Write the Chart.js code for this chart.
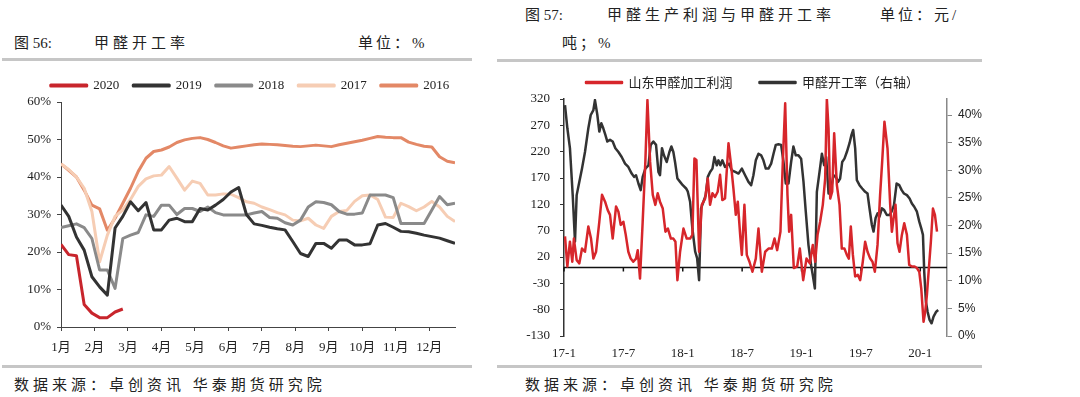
<!DOCTYPE html>
<html>
<head>
<meta charset="utf-8">
<script src="https://cdn.jsdelivr.net/npm/chart.js@4.4.1/dist/chart.umd.min.js"></script>
<style>
  body { margin: 0; width: 1080px; height: 397px; background: #fff; position: relative; overflow: hidden;
         font-family: "Liberation Serif", "Noto Sans CJK SC", serif; color: #222; }
  .t { position: absolute; font-size: 15px; line-height: 16px; white-space: nowrap; }
  .rule { position: absolute; height: 3px; background: #c6c6c6; }
  #leftBox { position: absolute; left: 0; top: 65px; width: 500px; height: 295px; }
  #rightBox { position: absolute; left: 505px; top: 49px; width: 495px; height: 313px; }
</style>
</head>
<body>
<div class="t" style="left:14px;top:35px;">图 56:</div>
<div class="t" style="left:94px;top:35px;letter-spacing:4px;">甲醛开工率</div>
<div class="t" style="left:358px;top:35px;letter-spacing:3px;">单位：%</div>
<div class="rule" style="left:2px;top:58px;width:470px;"></div>

<div class="t" style="left:525px;top:7px;">图 57:</div>
<div class="t" style="left:607px;top:7px;letter-spacing:4px;">甲醛生产利润与甲醛开工率</div>
<div class="t" style="left:880px;top:7px;letter-spacing:3px;">单位：元/</div>
<div class="t" style="left:562px;top:35px;letter-spacing:3px;">吨；%</div>
<div class="rule" style="left:497px;top:59px;width:485px;"></div>

<div id="leftBox"><canvas id="rateChart" width="500" height="295"></canvas></div>
<div id="rightBox"><canvas id="profitChart" width="495" height="313"></canvas></div>

<div class="rule" style="left:2px;top:365px;width:470px;"></div>
<div class="rule" style="left:497px;top:365px;width:485px;"></div>
<div class="t" style="left:14px;top:377px;letter-spacing:4px;">数据来源：卓创资讯 华泰期货研究院</div>
<div class="t" style="left:525px;top:377px;letter-spacing:4px;">数据来源：卓创资讯 华泰期货研究院</div>

<script>
// left chart: weekly operating rate by year (%)
const monthLabels = ['1月', '2月', '3月', '4月', '5月', '6月', '7月', '8月', '9月', '10月', '11月', '12月'];
const pctTicks = [0, 10, 20, 30, 40, 50, 60];
const rate2020 = [22, 19.3, 19, 6, 3.7, 2.5, 2.5, 4, 4.8];
const rate2019 = [32.5, 29.5, 24, 20.5, 13.4, 10.7, 8.5, 26.4, 29.5, 33.4, 31, 33.2, 25.9, 25.9, 28.5, 29, 28.1, 28.1,
  31.6, 31.2, 32.5, 34, 36, 37.2, 30, 27.5, 27.1, 26.6, 26.2, 25.9, 22.8, 19.6, 18.8, 22.3, 22.3, 21, 23.2, 23.2,
  21.9, 21.9, 22.2, 27.2, 27.6, 26.6, 25.5, 25.4, 25, 24.5, 24.1, 23.7, 23, 22.3];
const rate2018 = [26.5, 27, 27.5, 26.5, 23.6, 15.2, 15.2, 10.3, 23.6, 24.5, 25.2, 29.9, 29.5, 32.5, 32.5, 30, 31.6, 31.6,
  30.8, 32, 30.5, 29.9, 29.9, 29.9, 29.9, 30.4, 30.8, 29.2, 29, 27.8, 27.2, 28.5, 32, 33.4, 33.2, 32.6, 30.8, 30.1,
  30.1, 30.4, 35.2, 35.2, 35.2, 34.5, 27.6, 27.6, 27.6, 27.6, 31.2, 34.8, 32.6, 33];
const rate2017 = [43.5, 42, 40, 37, 30.8, 17.4, 24.5, 29.5, 31.2, 34, 37.5, 39.5, 40.3, 40.5, 42.8, 39.7, 36.5, 38.9,
  38.3, 35.2, 35.2, 35.5, 35.4, 34.5, 33.4, 33, 32, 31.3, 30.5, 29.9, 28.5, 28.3, 29, 27.2, 26.3, 29.5, 30.8, 31.1,
  33.5, 35, 35.2, 34, 29.3, 29.2, 33, 32.1, 31, 32, 33.5, 32, 29.5, 28.1];
const rate2016 = [43.5, 41.8, 40, 36.5, 32.5, 31.5, 25.8, 29, 33, 37, 41.5, 45, 46.8, 47.2, 48, 49.2, 49.9, 50.3,
  50.5, 50, 49.2, 48.3, 47.7, 48, 48.3, 48.6, 48.8, 48.7, 48.6, 48.4, 48.2, 48.1, 48.3, 48.5, 48.3, 48.1, 48.6, 49,
  49.4, 49.8, 50.3, 50.8, 50.6, 50.5, 50.5, 49.3, 48.7, 48.2, 48, 45.4, 44.2, 43.8];

// right chart: months since 2017-01, profit (yuan/t) and operating rate (%)
const dateLabels = ['17-1', '17-7', '18-1', '18-7', '19-1', '19-7', '20-1'];
const profitTicks = [-130, -80, -30, 20, 70, 120, 170, 220, 270, 320];
const rateTicks = [0, 5, 10, 15, 20, 25, 30, 35, 40];
const profitMonth = [0.1, 0.34, 0.6, 0.84, 1.0, 1.28, 1.55, 1.82, 2.12, 2.46, 2.73, 2.97, 3.24, 3.57, 3.84, 4.15, 4.42,
  4.65, 4.92, 5.26, 5.5, 5.73, 6.0, 6.24, 6.5, 6.74, 7.0, 7.28, 7.45, 7.68, 7.95, 8.22, 8.43, 8.7, 8.97, 9.23, 9.47,
  9.7, 9.98, 10.25, 10.5, 10.8, 11.05, 11.26, 11.46, 11.73, 12.07, 12.4, 12.74, 12.97, 13.18, 13.38, 13.65, 13.92,
  14.26, 14.53, 14.76, 15.0, 15.26, 15.53, 15.77, 16.0, 16.27, 16.62, 16.88, 17.12, 17.36, 17.56, 17.8, 17.97, 18.23,
  18.47, 18.74, 19.04, 19.38, 19.65, 19.99, 20.33, 20.66, 21.0, 21.27, 21.54, 21.87, 22.11, 22.35, 22.58, 22.75,
  22.95, 23.22, 23.56, 23.83, 24.17, 24.5, 24.84, 25.14, 25.38, 25.62, 25.88, 26.15, 26.39, 26.56, 26.73, 26.9, 27.1,
  27.3, 27.57, 27.84, 28.07, 28.34, 28.58, 28.78, 28.98, 29.19, 29.42, 29.69, 29.93, 30.19, 30.43, 30.67, 30.94,
  31.17, 31.41, 31.68, 31.94, 32.15, 32.38, 32.69, 32.96, 33.13, 33.3, 33.5, 33.7, 33.9, 34.14, 34.38, 34.65, 34.88,
  35.15, 35.42, 35.66, 35.9, 36.1, 36.33, 36.5, 36.67, 36.87, 37.07, 37.28, 37.48, 37.69];
const profitValue = [59, 2, 49, 11, 55, 14, 8, 36, 30, 78, 55, 17, 30, 87, 138, 125, 109,
  100, 55, 116, 106, 81, 87, 62, 30, 17, 11, 17, 33, -21, 87, 201, 318, 201, 138, 119, 141,
  125, 112, 68, 74, 55, 55, 49, -24, 30, 74, 55, 55, 62, 207, 204, 30, 119,
  131, 169, 119, 141, 134, 144, 176, 128, 131, 236, 195, 150, 100, 125, 62, 24, 119,
  24, 11, -8, 17, 74, -8, 30, 36, 36, 55, 33, 68, 201, 312, 138, 68,
  100, -1, 2, 36, -24, 17, 8, 43, 11, 62, 87, 119, 169, 320, 264, 131, 144,
  255, 157, 119, 36, 36, 24, 17, 78, 24, -17, -14, -24, 11, 49, 30, 17,
  11, -8, 43, 138, 201, 277, 226, 119, 68, 93, 119, 46, 30, 62, 84, 62, 5,
  2, 2, -1, -8, -40, -103, -84, -52, -1, 49, 112, 100, 68];
const rateMonth = [0.1, 0.34, 0.6, 0.88, 1.11, 1.28, 1.55, 1.82, 2.12, 2.46, 2.7, 2.97, 3.13, 3.37, 3.57, 3.77, 3.97,
  4.18, 4.38, 4.65, 4.92, 5.19, 5.5, 5.83, 6.17, 6.5, 6.84, 7.08, 7.28, 7.52, 7.75, 7.95, 8.22, 8.53, 8.76, 9.03, 9.3,
  9.54, 9.7, 9.9, 10.1, 10.38, 10.65, 10.85, 11.05, 11.22, 11.46, 11.73, 12.0, 12.34, 12.5, 12.74, 12.97, 13.25,
  13.45, 13.65, 13.85, 14.09, 14.32, 14.53, 14.76, 15.0, 15.2, 15.44, 15.6, 15.8, 16.0, 16.27, 16.47, 16.68, 16.95,
  17.3, 17.63, 17.97, 18.3, 18.64, 18.91, 19.14, 19.38, 19.65, 19.92, 20.15, 20.39, 20.66, 20.93, 21.17, 21.4, 21.67,
  21.94, 22.18, 22.41, 22.68, 22.95, 23.18, 23.42, 23.69, 23.96, 24.2, 24.43, 24.7, 24.97, 25.14, 25.35, 25.55,
  25.82, 26.06, 26.29, 26.49, 26.73, 26.96, 27.23, 27.47, 27.7, 27.9, 28.11, 28.34, 28.58, 28.85, 29.05, 29.22,
  29.42, 29.59, 29.86, 30.13, 30.43, 30.67, 30.87, 31.11, 31.28, 31.48, 31.68, 31.88, 32.12, 32.35, 32.62, 32.9,
  33.1, 33.34, 33.61, 33.88, 34.12, 34.35, 34.65, 34.92, 35.15, 35.39, 35.66, 35.9, 36.1, 36.27, 36.4, 36.57,
  36.74, 36.94, 37.14, 37.34, 37.61, 37.81];
const rateValue = [41.8, 37.6, 34, 25.5, 17.1, 25.5, 27.9, 30.3, 33.3, 37.6, 40, 40.9, 42.7, 40, 37, 38.5, 37.6,
  36.4, 35.2, 35.5, 35.2, 34, 33.3, 32.4, 31.2, 30.6, 29.4, 28.8, 29.1, 27.6, 26.4, 28.8, 30.3, 30.9, 34.6, 35.2, 34.6,
  29.7, 29.1, 34, 32.7, 31.5, 33.3, 34.3, 33.3, 31.5, 28.5, 27.9, 27.3, 26.7, 26.2, 24.3, 19.5, 15.3,
  14.1, 10.1, 23.1, 24.3, 25.5, 28.8, 29.7, 30.3, 32.4, 30.9, 31.8, 30.9, 31.8, 30.6, 30.9, 31.2, 30,
  29.7, 29.4, 30.3, 29.1, 27.9, 27.3, 29.1, 31.8, 33, 32.7, 31.8, 30.3, 30.3, 31.2, 33, 34.6, 34.7,
  34.6, 31.5, 27.6, 27.6, 31.5, 34.3, 32.7, 32.7, 32.1, 27.9, 22.5, 16.5, 12.8, 11, 8.6, 26.1,
  29.7, 33, 30.9, 32.4, 25.8, 26.4, 29.1, 28.8, 27.9, 28.5, 31.5, 32.1, 33.3, 34.9, 36.4, 37.3,
  34, 28.2, 27.3, 26.7, 26.1, 25.8, 23.1, 20.1, 18.9, 21.3, 22.2, 21.6, 23.1, 22.8, 21.9, 21.9,
  22.5, 23.7, 27.6, 27.3, 26.4, 25.8, 25.5, 24.9, 24, 23.4, 22.5, 20.7, 19.5, 18.3, 11.6, 6.2,
  4.4, 2.9, 2.3, 3.5, 4.4, 4.7];

Chart.defaults.font.family = '"Liberation Serif", "Noto Sans CJK SC", serif';
Chart.defaults.color = '#222';

const weekPoints = arr => arr.map((v, i) => ({ x: i, y: v }));
const pairPoints = (xs, ys) => xs.map((x, i) => ({ x: x, y: ys[i] }));

function yearSet(label, values, color) {
    return { label: label, data: weekPoints(values), borderColor: color, backgroundColor: color, yAxisID: 'y' };
}

// Figure 56
new Chart(document.getElementById('rateChart'), {
    type: 'line',
    data: {
        datasets: [
            yearSet('2020', rate2020, '#c8252c'),
            yearSet('2019', rate2019, '#333333'),
            yearSet('2018', rate2018, '#8a8a8a'),
            yearSet('2017', rate2017, '#f6cdb4'),
            yearSet('2016', rate2016, '#e38866')
        ]
    },
    options: {
        responsive: false,
        animation: false,
        devicePixelRatio: 1,
        elements: {
            point: { radius: 0 },
            line: { borderWidth: 3, tension: 0, borderJoinStyle: 'round' }
        },
        plugins: {
            legend: {
                labels: { boxWidth: 36, boxHeight: 1, padding: 14, color: '#222', font: { size: 13 } }
            },
            tooltip: { enabled: false }
        },
        scales: {
            x: {
                type: 'linear',
                min: 0,
                max: 51,
                afterBuildTicks: function (scale) {
                    scale.ticks = monthLabels.map((_, m) => ({ value: m * 52 / 12 }));
                },
                afterFit: function (scale) { scale.height = 33; },
                ticks: {
                    callback: function (value, index) { return monthLabels[index]; },
                    autoSkip: false,
                    maxRotation: 0,
                    padding: 9,
                    font: { size: 13 }
                },
                grid: { display: true, drawOnChartArea: false, tickLength: 4, color: '#444' },
                border: { display: true, color: '#444', width: 1 }
            },
            y: {
                min: 0,
                max: 60,
                afterBuildTicks: function (scale) {
                    scale.ticks = pctTicks.map(v => ({ value: v }));
                },
                afterFit: function (scale) { scale.width = 61; },
                ticks: {
                    callback: function (value) { return value + '%'; },
                    padding: 6,
                    font: { size: 13 }
                },
                grid: { display: true, drawOnChartArea: false, tickLength: 4, color: '#444' },
                border: { display: true, color: '#444', width: 1 }
            },
            pad: {
                type: 'linear',
                position: 'right',
                afterFit: function (scale) { scale.width = 45; },
                ticks: { display: false },
                grid: { display: false },
                border: { display: false }
            }
        }
    }
});

// horizontal line at profit = 0, with small ticks at the date labels
const zeroLine = {
    id: 'zeroLine',
    beforeDatasetsDraw: function (chart) {
        const { ctx, chartArea, scales } = chart;
        const y = scales.y.getPixelForValue(0);
        ctx.save();
        ctx.strokeStyle = '#111';
        ctx.lineWidth = 1.5;
        ctx.beginPath();
        ctx.moveTo(chartArea.left, y);
        ctx.lineTo(chartArea.right, y);
        scales.x.ticks.forEach(function (t) {
            const x = scales.x.getPixelForValue(t.value);
            ctx.moveTo(x, y);
            ctx.lineTo(x, y + 4);
        });
        ctx.stroke();
        ctx.restore();
    }
};

// Figure 57
new Chart(document.getElementById('profitChart'), {
    type: 'line',
    data: {
        datasets: [
            {
                label: '山东甲醛加工利润',
                data: pairPoints(profitMonth, profitValue),
                borderColor: '#d7262b',
                backgroundColor: '#d7262b',
                borderWidth: 2.5,
                yAxisID: 'y'
            },
            {
                label: '甲醛开工率（右轴）',
                data: pairPoints(rateMonth, rateValue),
                borderColor: '#333333',
                backgroundColor: '#333333',
                borderWidth: 2.5,
                yAxisID: 'y1'
            }
        ]
    },
    options: {
        responsive: false,
        animation: false,
        devicePixelRatio: 1,
        elements: {
            point: { radius: 0 },
            line: { tension: 0, borderJoinStyle: 'round' }
        },
        plugins: {
            legend: {
                labels: {
                    boxWidth: 36, boxHeight: 1, padding: 27, color: '#222',
                    font: { size: 13, family: '"Noto Sans CJK SC", sans-serif' }
                }
            },
            tooltip: { enabled: false }
        },
        scales: {
            x: {
                type: 'linear',
                min: 0,
                max: 38.7,
                afterBuildTicks: function (scale) {
                    scale.ticks = dateLabels.map((_, i) => ({ value: i * 6 }));
                },
                afterFit: function (scale) { scale.height = 26; },
                ticks: {
                    callback: function (value, index) { return dateLabels[index]; },
                    autoSkip: false,
                    maxRotation: 0,
                    padding: 10,
                    font: { size: 13 }
                },
                grid: { display: false, drawTicks: false, tickLength: 0 },
                border: { display: false }
            },
            y: {
                position: 'left',
                min: -130,
                max: 320,
                afterBuildTicks: function (scale) {
                    scale.ticks = profitTicks.map(v => ({ value: v }));
                },
                afterFit: function (scale) { scale.width = 59; },
                ticks: { padding: 10, font: { size: 13 } },
                grid: { display: true, drawOnChartArea: false, tickLength: 4, color: '#333' },
                border: { display: true, color: '#333', width: 1.5 }
            },
            y1: {
                position: 'right',
                min: 0,
                max: 42.9,
                afterBuildTicks: function (scale) {
                    scale.ticks = rateTicks.map(v => ({ value: v }));
                },
                afterFit: function (scale) { scale.width = 53; },
                ticks: {
                    callback: function (value) { return value + '%'; },
                    padding: 6,
                    font: { size: 12, family: '"Liberation Sans", sans-serif' }
                },
                grid: { display: true, drawOnChartArea: false, tickLength: 5, color: '#888' },
                border: { display: true, color: '#888', width: 1.5 }
            }
        }
    },
    plugins: [zeroLine]
});
</script>
</body>
</html>
